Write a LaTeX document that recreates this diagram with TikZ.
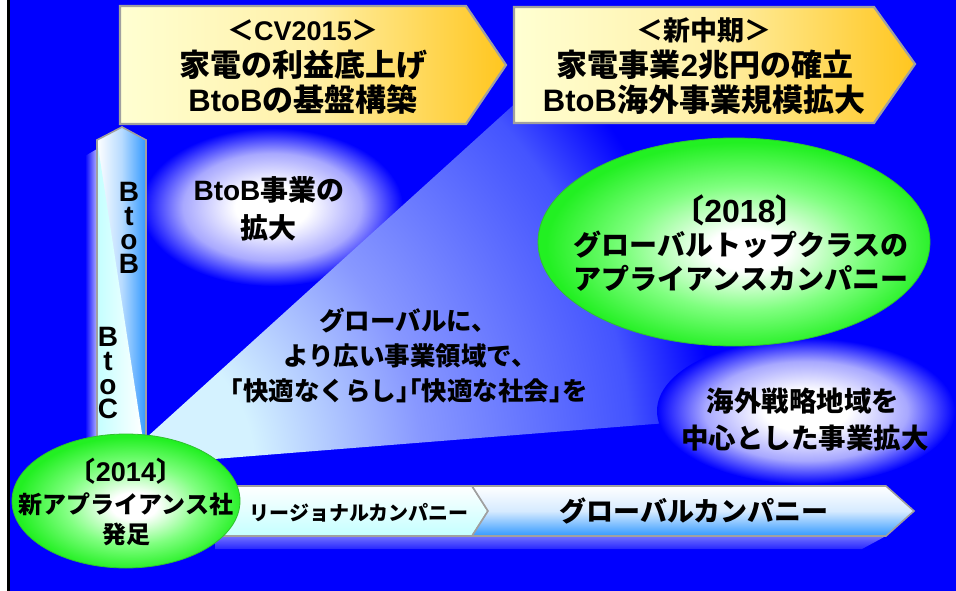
\documentclass[tikz,border=0pt]{standalone}
\usepackage{fontspec}
\setmainfont{Noto Sans CJK JP}
\newfontfamily\latinfam{Liberation Sans}
\newcommand\latn[1]{{\latinfam\bfseries #1}}
\newcommand\hw[1]{{\addfontfeature{RawFeature=+halt}#1}}
\usetikzlibrary{shapes.geometric}
\definecolor{bgblue}{HTML}{0000FF}
\definecolor{yellowL}{HTML}{FFFFD2}
\definecolor{yellowM}{HTML}{FFF0A8}
\definecolor{yellowR}{HTML}{FFC61E}
\definecolor{bordergray}{HTML}{A0A0A0}
\definecolor{fanlight}{HTML}{D4F2FF}
\definecolor{fanmid}{HTML}{8898FF}
\definecolor{fandark}{HTML}{4454FF}
\definecolor{skyblue}{HTML}{3399FF}
\definecolor{palecyan}{HTML}{C4FFFF}
\definecolor{brightgreen}{HTML}{22F022}
\definecolor{midgreen}{HTML}{80FF80}
\definecolor{rimgreen}{HTML}{30C030}
\definecolor{lavender}{HTML}{A8A8FF}
\pgfdeclareradialshading{fanradial}{\pgfpoint{0bp}{0bp}}{color(0bp)=(fanlight); color(5bp)=(fanlight); color(11bp)=(fanmid); color(18.5bp)=(fandark); color(21.5bp)=(bgblue); color(50bp)=(bgblue)}
\pgfdeclareradialshading{glowshade}{\pgfpoint{0bp}{0bp}}{color(0bp)=(white); color(7bp)=(white); color(17bp)=(lavender); color(25bp)=(bgblue); color(50bp)=(bgblue)}
\pgfdeclareradialshading{greenshade}{\pgfpoint{2bp}{-2bp}}{color(0bp)=(white); color(5bp)=(white); color(15bp)=(midgreen); color(25bp)=(brightgreen); color(50bp)=(brightgreen)}
\begin{document}
\begin{tikzpicture}[x=1pt,y=-1pt,
  txt/.style={inner sep=0pt, text=black},
  fs/.style={font=\fontsize{#1}{#1}\selectfont\bfseries},
  yarrow/.style={draw=bordergray, line width=2.2pt, line join=miter, left color=yellowL, right color=yellowR, middle color=yellowM},
  barrow/.style={draw=bordergray, line width=1.6pt, line join=miter},
  greenell/.style={ellipse, inner sep=0pt, draw=rimgreen, line width=0.8pt, shading=greenshade},
  blueell/.style={ellipse, inner sep=0pt, shading=glowshade},
  vlet/.style={txt, anchor=base, text height=20pt, text depth=0pt, font=\fontsize{28}{28}\selectfont\latinfam\bfseries}
]
\useasboundingbox (0,0) rectangle (956,591);
\fill[white] (0,0) rectangle (956,591);
\fill[black] (7,0) rectangle (10,591);
\fill[bgblue] (10,0) rectangle (956,591);

% ellipse BtoB expansion
\node[blueell, minimum width=262pt, minimum height=158pt] (bbell) at (272,207) {};

% fan (spotlight), radial fade from its apex
\coordinate (fapex) at (114,467);
\begin{scope}
  \clip (fapex) -- (530,90) -- (640,118) -- (700,200) -- (780,414) -- cycle;
  \shade[shading=fanradial] (-586,-233) rectangle (814,1167);
\end{scope}

% vertical arrow shadow and arrow
\shade[left color=bgblue, right color=white!70!bgblue] (85,156) -- (97,149) -- (97,440) -- (85,440) -- cycle;
\coordinate (vbl) at (97,440);
\coordinate (vl) at (97,140);
\coordinate (vtip) at (122,127);
\coordinate (vr) at (146,140);
\coordinate (vbr) at (146,440);
\shade[left color=white, right color=skyblue, middle color=skyblue!35!white] (vbl) -- (vl) -- (vtip) -- (vr) -- (vbr) -- cycle;
\shade[left color=palecyan, right color=white] (vl) -- (143,440) -- (vbl) -- cycle;
\draw[bordergray, line width=1.6pt] (vbl) -- (vl) -- (vtip) -- (vr) -- (vbr);

% top arrows
\path[yarrow] (120,6) -- (466,6) -- (506,65) -- (466,124) -- (120,124) -- cycle;
\path[yarrow] (514,7) -- (874,7) -- (915,64) -- (874,123) -- (514,123) -- cycle;

% bottom arrows and their shadow
\shade[top color=white!45!bgblue, bottom color=white!15!bgblue] (215,536) -- (886,536) -- (862,549) -- (215,549) -- cycle;
\path[barrow, top color=white, bottom color=palecyan] (215,486) -- (472,486) -- (488,511) -- (472,536) -- (215,536) -- cycle;
\path[barrow, top color=white, bottom color=skyblue, middle color=skyblue!20!white] (472,486) -- (886,486) -- (914,511) -- (886,536) -- (472,536) -- (488,511) -- cycle;

% ellipses
\node[blueell, minimum width=298pt, minimum height=146pt] (ovell) at (806,411) {};
\node[greenell, minimum width=392pt, minimum height=208pt] (e2018) at (734,242) {};
\node[greenell, minimum width=228pt, minimum height=134pt] (e2014) at (126,501) {};

% texts: top arrows
\node[txt, fs=27] (a1l1) at (303,30) {＜\latn{CV2015}＞};
\node[txt, fs=31] (a1l2) at (303,65) {家電の利益底上げ};
\node[txt, fs=31] (a1l3) at (303,100) {\latn{BtoB}の基盤構築};
\node[txt, fs=27] (a2l1) at (704,30) {＜新中期＞};
\node[txt, fs=31] (a2l2) at (705,65) {家電事業\latn{2}兆円の確立};
\node[txt, fs=31] (a2l3) at (704,100) {\latn{BtoB}海外事業規模拡大};

% vertical letters
\node[vlet] (vb1) at (129,201) {B};
\node[vlet] (vb2) at (129,225) {t};
\node[vlet] (vb3) at (129,249) {o};
\node[vlet] (vb4) at (129,273) {B};
\node[vlet] (vc1) at (108,346) {B};
\node[vlet] (vc2) at (108,370) {t};
\node[vlet] (vc3) at (108,394) {o};
\node[vlet] (vc4) at (108,418) {C};

% BtoB ellipse text
\node[txt, fs=28] (bb1) at (269,190) {\latn{BtoB}事業の};
\node[txt, fs=28] (bb2) at (268,228) {拡大};

% 2018 ellipse text
\node[txt, fs=32] (g1) at (740,210) {\hw{〔}\latn{2018}\hw{〕}};
\node[txt, fs=28] (g2) at (741,245) {グローバルトップクラスの};
\node[txt, fs=28] (g3) at (741,278) {アプライアンスカンパニー};

% fan text
\node[txt, fs=25.5] (f1) at (408,321) {グローバルに、};
\node[txt, fs=25.5] (f2) at (410,356) {より広い事業領域で、};
\node[txt, fs=25.5] (f3) at (409,391) {\hw{「}快適なくらし\hw{」「}快適な社会\hw{」}を};

% overseas ellipse text
\node[txt, fs=27.5] (o1) at (803,401) {海外戦略地域を};
\node[txt, fs=27.5] (o2) at (805,438) {中心とした事業拡大};

% 2014 ellipse text
\node[txt, fs=27] (s1) at (126,471) {\hw{〔}\latn{2014}\hw{〕}};
\node[txt, fs=24] (s2) at (126,504) {新アプライアンス社};
\node[txt, fs=24] (s3) at (126,534) {発足};

% bottom arrow texts
\node[txt, fs=20] (reg) at (359,513) {リージョナルカンパニー};
\node[txt, fs=27] (glob) at (694,511) {グローバルカンパニー};
\end{tikzpicture}
\end{document}
